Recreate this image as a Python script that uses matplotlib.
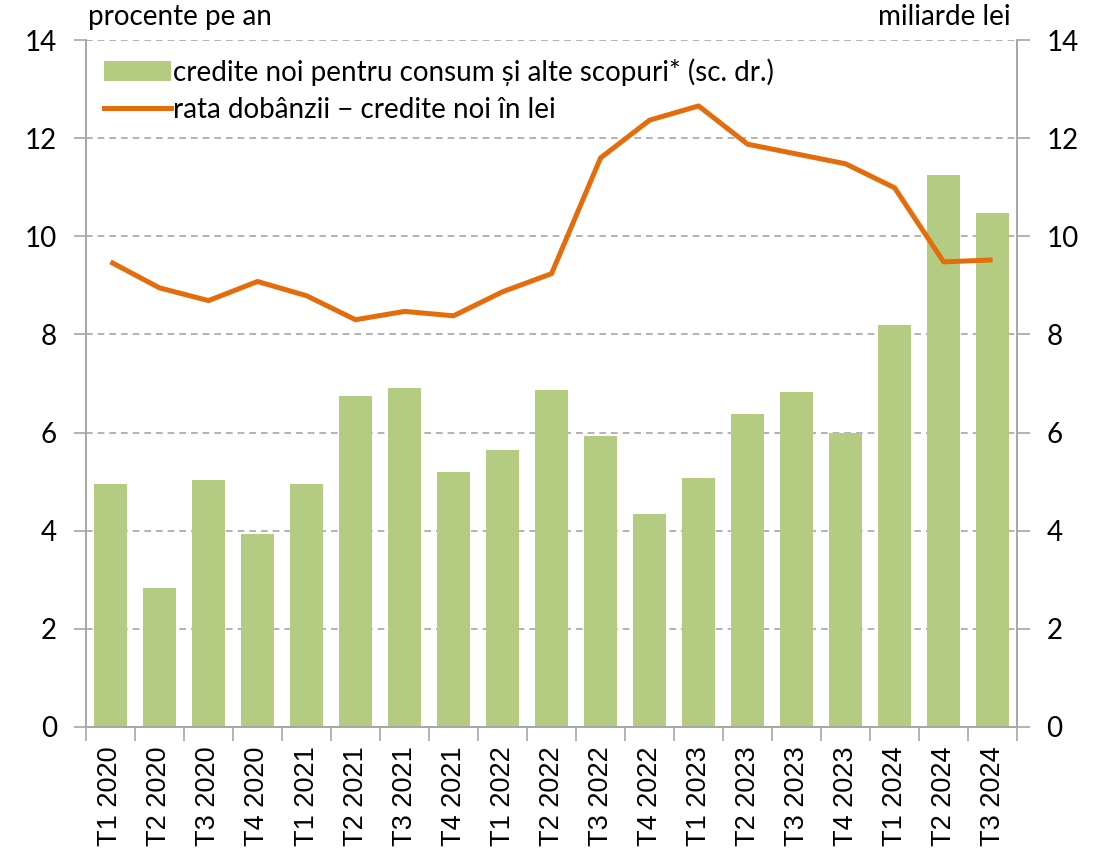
import numpy as np
import matplotlib
matplotlib.use("Agg")
import matplotlib.pyplot as plt
from matplotlib.patches import Patch
from matplotlib.lines import Line2D

#date
trimestre = ["T1 2020", "T2 2020", "T3 2020", "T4 2020",
             "T1 2021", "T2 2021", "T3 2021", "T4 2021",
             "T1 2022", "T2 2022", "T3 2022", "T4 2022",
             "T1 2023", "T2 2023", "T3 2023", "T4 2023",
             "T1 2024", "T2 2024", "T3 2024"]
credite_noi = [4.95, 2.83, 5.03, 3.93, 4.95, 6.74, 6.90, 5.19, 5.64, 6.86,
               5.92, 4.33, 5.07, 6.37, 6.82, 6.00, 8.20, 11.25, 10.48]
rata_dobanzii = [9.48, 8.95, 8.69, 9.08, 8.79, 8.30, 8.47, 8.38, 8.87, 9.24,
                 11.60, 12.37, 12.66, 11.88, 11.68, 11.48, 10.99, 9.48, 9.52]

legend_bar = "credite noi pentru consum și alte scopuri* (sc. dr.)"
legend_line = "rata dobânzii \u2212 credite noi în lei"

verde = "#B3CC82"
portocaliu = "#E46C0A"
gri = "#A6A6A6"
font_txt = ["Lato", "DejaVu Sans"]

fig = plt.figure(figsize=(11.02, 8.56), dpi=100)
ax = fig.add_axes([0.078, 0.151, 0.845, 0.802])
ax2 = ax.twinx()

x = np.arange(len(trimestre))

#bare pe axa din dreapta
ax2.bar(x, credite_noi, width=0.68, color=verde, zorder=2)
ax2.set_ylim(0, 14)
ax2.set_yticks(np.arange(0, 15, 2))
ax2.yaxis.grid(True, linestyle=(0, (4, 3)), color=gri, linewidth=1.2, zorder=0)
ax2.set_axisbelow(True)

#linia pe axa din stanga
ax.set_zorder(ax2.get_zorder() + 1)
ax.patch.set_visible(False)
ax.plot(x, rata_dobanzii, color=portocaliu, linewidth=3.6, solid_capstyle="butt")
ax.set_ylim(0, 14)
ax.set_yticks(np.arange(0, 15, 2))
ax.set_xlim(-0.5, len(trimestre) - 0.5)

#axa x
ax.set_xticks(x)
ax.set_xticklabels(trimestre, rotation=90, fontsize=19.5, family=["Liberation Sans"])
ax.tick_params(axis="x", which="major", length=0, pad=14)
ax.set_xticks(np.arange(-0.5, len(trimestre)), minor=True)
ax.tick_params(axis="x", which="minor", length=10, width=1.2, color=gri, direction="out")

for a in (ax, ax2):
    for s in a.spines.values():
        s.set_color(gri)
        s.set_linewidth(1.2)
    a.spines["top"].set_visible(False)
    a.tick_params(axis="y", length=9, width=1.2, color=gri, labelsize=20, pad=12)
    for lbl in a.get_yticklabels():
        lbl.set_family(font_txt)

#legenda
handles = [Patch(facecolor=verde, edgecolor="none"),
           Line2D([0], [0], color=portocaliu, linewidth=3.6)]
leg = ax.legend(handles, [legend_bar, legend_line], loc="upper left",
                bbox_to_anchor=(0.0, 1.0), frameon=False,
                prop={"family": font_txt, "size": 20},
                handlelength=2.4, handletextpad=0.1, labelspacing=0.4,
                borderaxespad=0.25)

fig.text(0.08, 0.965, "procente pe an", fontsize=20, family=font_txt, ha="left", va="bottom")
fig.text(0.917, 0.965, "miliarde lei", fontsize=20, family=font_txt, ha="right", va="bottom")

fig.savefig("out.png", dpi=100)
